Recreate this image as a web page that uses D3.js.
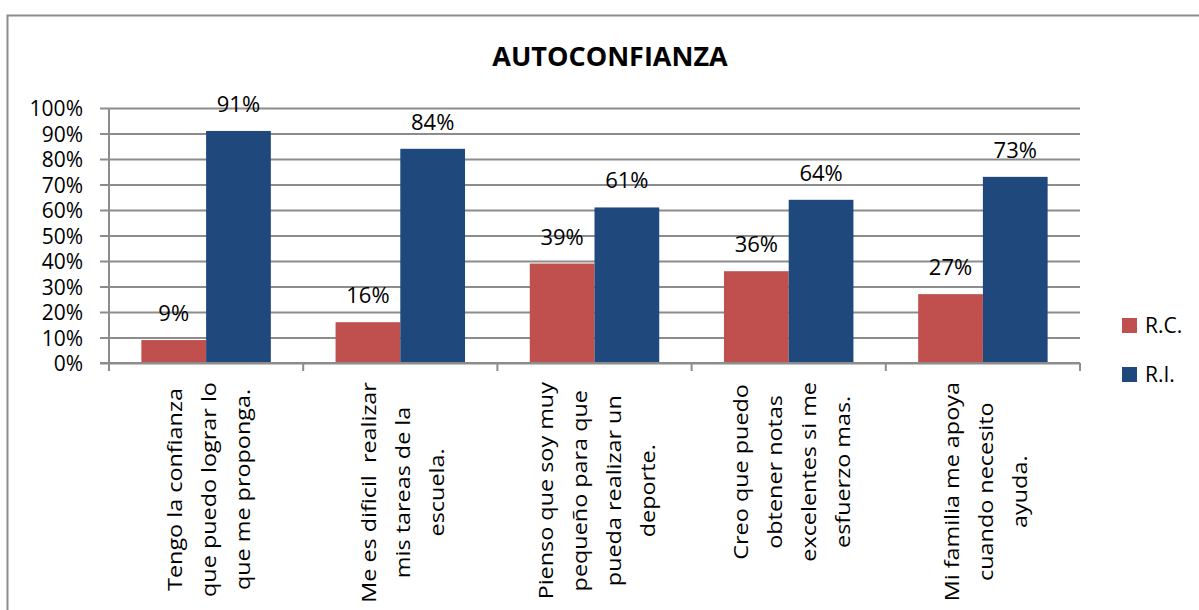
<!DOCTYPE html>
<html>
<head>
<meta charset="utf-8">
<script src="https://cdn.jsdelivr.net/npm/d3@7"></script>
<style>
  html, body { margin: 0; padding: 0; background: #fff; }
  svg { display: block; font-family: "Open Sans", "DejaVu Sans", sans-serif; }
</style>
</head>
<body>
<svg id="chart" width="1199" height="610"></svg>
<script>
// ── Data ─────────────────────────────────────────────────────────
const categories = [
  ['Tengo la confianza', 'que puedo lograr lo', 'que me proponga.'],
  ['Me es dificil  realizar', 'mis tareas de la', 'escuela.'],
  ['Pienso que soy muy', 'pequeño para que', 'pueda realizar un', 'deporte.'],
  ['Creo que puedo', 'obtener notas', 'excelentes si me', 'esfuerzo mas.'],
  ['Mi familia me apoya', 'cuando necesito', 'ayuda.'],
];
const seriesNames = ['R.C.', 'R.I.'];
const seriesColors = ['#C0504D', '#1F497D'];
const rcValues = [0.09, 0.16, 0.39, 0.36, 0.27];
const riValues = [0.91, 0.84, 0.61, 0.64, 0.73];
const yTicks = [0, 0.1, 0.2, 0.3, 0.4, 0.5, 0.6, 0.7, 0.8, 0.9, 1.0];

const values = [rcValues, riValues];
const GRID = '#8c8c8c';

// ── Layout ───────────────────────────────────────────────────────
const plot = { left: 109, right: 1080, top: 108, bottom: 363 };
const svg = d3.select('#chart');

// chart frame
svg.append('rect')
  .attr('x', 7.5).attr('y', 15.5)
  .attr('width', 1300).attr('height', 700)
  .attr('fill', 'none').attr('stroke', GRID).attr('stroke-width', 2);

svg.append('text')
  .attr('x', 610).attr('y', 66)
  .attr('text-anchor', 'middle')
  .attr('font-size', '27px').attr('font-weight', 700)
  .text('AUTOCONFIANZA');

const idx = d3.range(categories.length);
const x0 = d3.scaleBand().domain(idx).range([plot.left, plot.right]).padding(0);
const x1 = d3.scaleBand().domain([0, 1]).range([0, x0.bandwidth()])
  .paddingInner(0).paddingOuter(0.5);
const y = d3.scaleLinear().domain([0, 1]).range([plot.bottom, plot.top]);

// ── Gridlines + y axis ───────────────────────────────────────────
const yAxis = svg.append('g')
  .attr('transform', `translate(${plot.left},0)`)
  .call(d3.axisLeft(y).tickValues(yTicks).tickFormat(d3.format('.0%'))
    .tickSize(-(plot.right - plot.left)).tickSizeOuter(0).tickPadding(26));
yAxis.select('.domain').remove();
yAxis.selectAll('.tick line')
  .attr('x1', -9)
  .attr('stroke', GRID).attr('stroke-width', 2);
yAxis.selectAll('.tick text')
  .attr('font-family', '"Open Sans", sans-serif')
  .attr('font-size', '21px').attr('fill', '#000')
  .attr('dy', '0.36em');

svg.append('line')
  .attr('x1', plot.left).attr('x2', plot.left)
  .attr('y1', plot.top).attr('y2', plot.bottom + 8)
  .attr('stroke', GRID).attr('stroke-width', 2);

// ── Bars ─────────────────────────────────────────────────────────
const groups = svg.selectAll('.grp')
  .data(idx).enter().append('g')
  .attr('transform', i => `translate(${x0(i)},0)`);

groups.selectAll('rect')
  .data(i => values.map((s, k) => ({ k, v: s[i] })))
  .enter().append('rect')
  .attr('x', d => x1(d.k))
  .attr('width', x1.bandwidth())
  .attr('y', d => y(d.v))
  .attr('height', d => y(0) - y(d.v))
  .attr('fill', d => seriesColors[d.k]);

groups.selectAll('.val')
  .data(i => values.map((s, k) => ({ k, v: s[i] })))
  .enter().append('text')
  .attr('x', d => x1(d.k) + x1.bandwidth() / 2)
  .attr('y', d => y(d.v) - 19)
  .attr('text-anchor', 'middle')
  .attr('font-size', '22px')
  .text(d => d3.format('.0%')(d.v));

// ── X axis (baseline + ticks) ────────────────────────────────────
svg.append('line')
  .attr('x1', plot.left - 9).attr('x2', plot.right)
  .attr('y1', plot.bottom).attr('y2', plot.bottom)
  .attr('stroke', GRID).attr('stroke-width', 2);

idx.concat([categories.length]).forEach(i => {
  const xx = i < categories.length ? x0(i) : plot.right;
  svg.append('line')
    .attr('x1', xx).attr('x2', xx)
    .attr('y1', plot.bottom).attr('y2', plot.bottom + 8)
    .attr('stroke', GRID).attr('stroke-width', 2);
});

// rotated multi-line category labels, top-aligned under the axis
// (stretched a little along the reading direction, like the original)
const labelTop = 382, linePitch = 34, stretch = 1.17;
idx.forEach(i => {
  const lines = categories[i];
  const g = svg.append('g');
  const texts = lines.map((ln, j) => g.append('text')
    .attr('text-anchor', 'middle')
    .attr('dominant-baseline', 'central')
    .attr('font-size', '20px')
    .style('white-space', 'pre')
    .attr('y', (j - (lines.length - 1) / 2) * linePitch)
    .text(ln));
  const maxLen = d3.max(texts, t => t.node().getComputedTextLength()) * stretch;
  const cx = x0(i) + x0.bandwidth() / 2 + 2;
  g.attr('transform', `translate(${cx},${labelTop + maxLen / 2}) rotate(-90) scale(${stretch},1)`);
});

// ── Legend ───────────────────────────────────────────────────────
const legend = svg.append('g').attr('transform', 'translate(1122,318)');
seriesNames.forEach((name, k) => {
  const row = legend.append('g').attr('transform', `translate(0,${k * 49})`);
  row.append('rect').attr('width', 15).attr('height', 15).attr('fill', seriesColors[k]);
  row.append('text').attr('x', 23).attr('y', 15)
    .attr('font-size', '21px').text(name);
});
</script>
</body>
</html>
